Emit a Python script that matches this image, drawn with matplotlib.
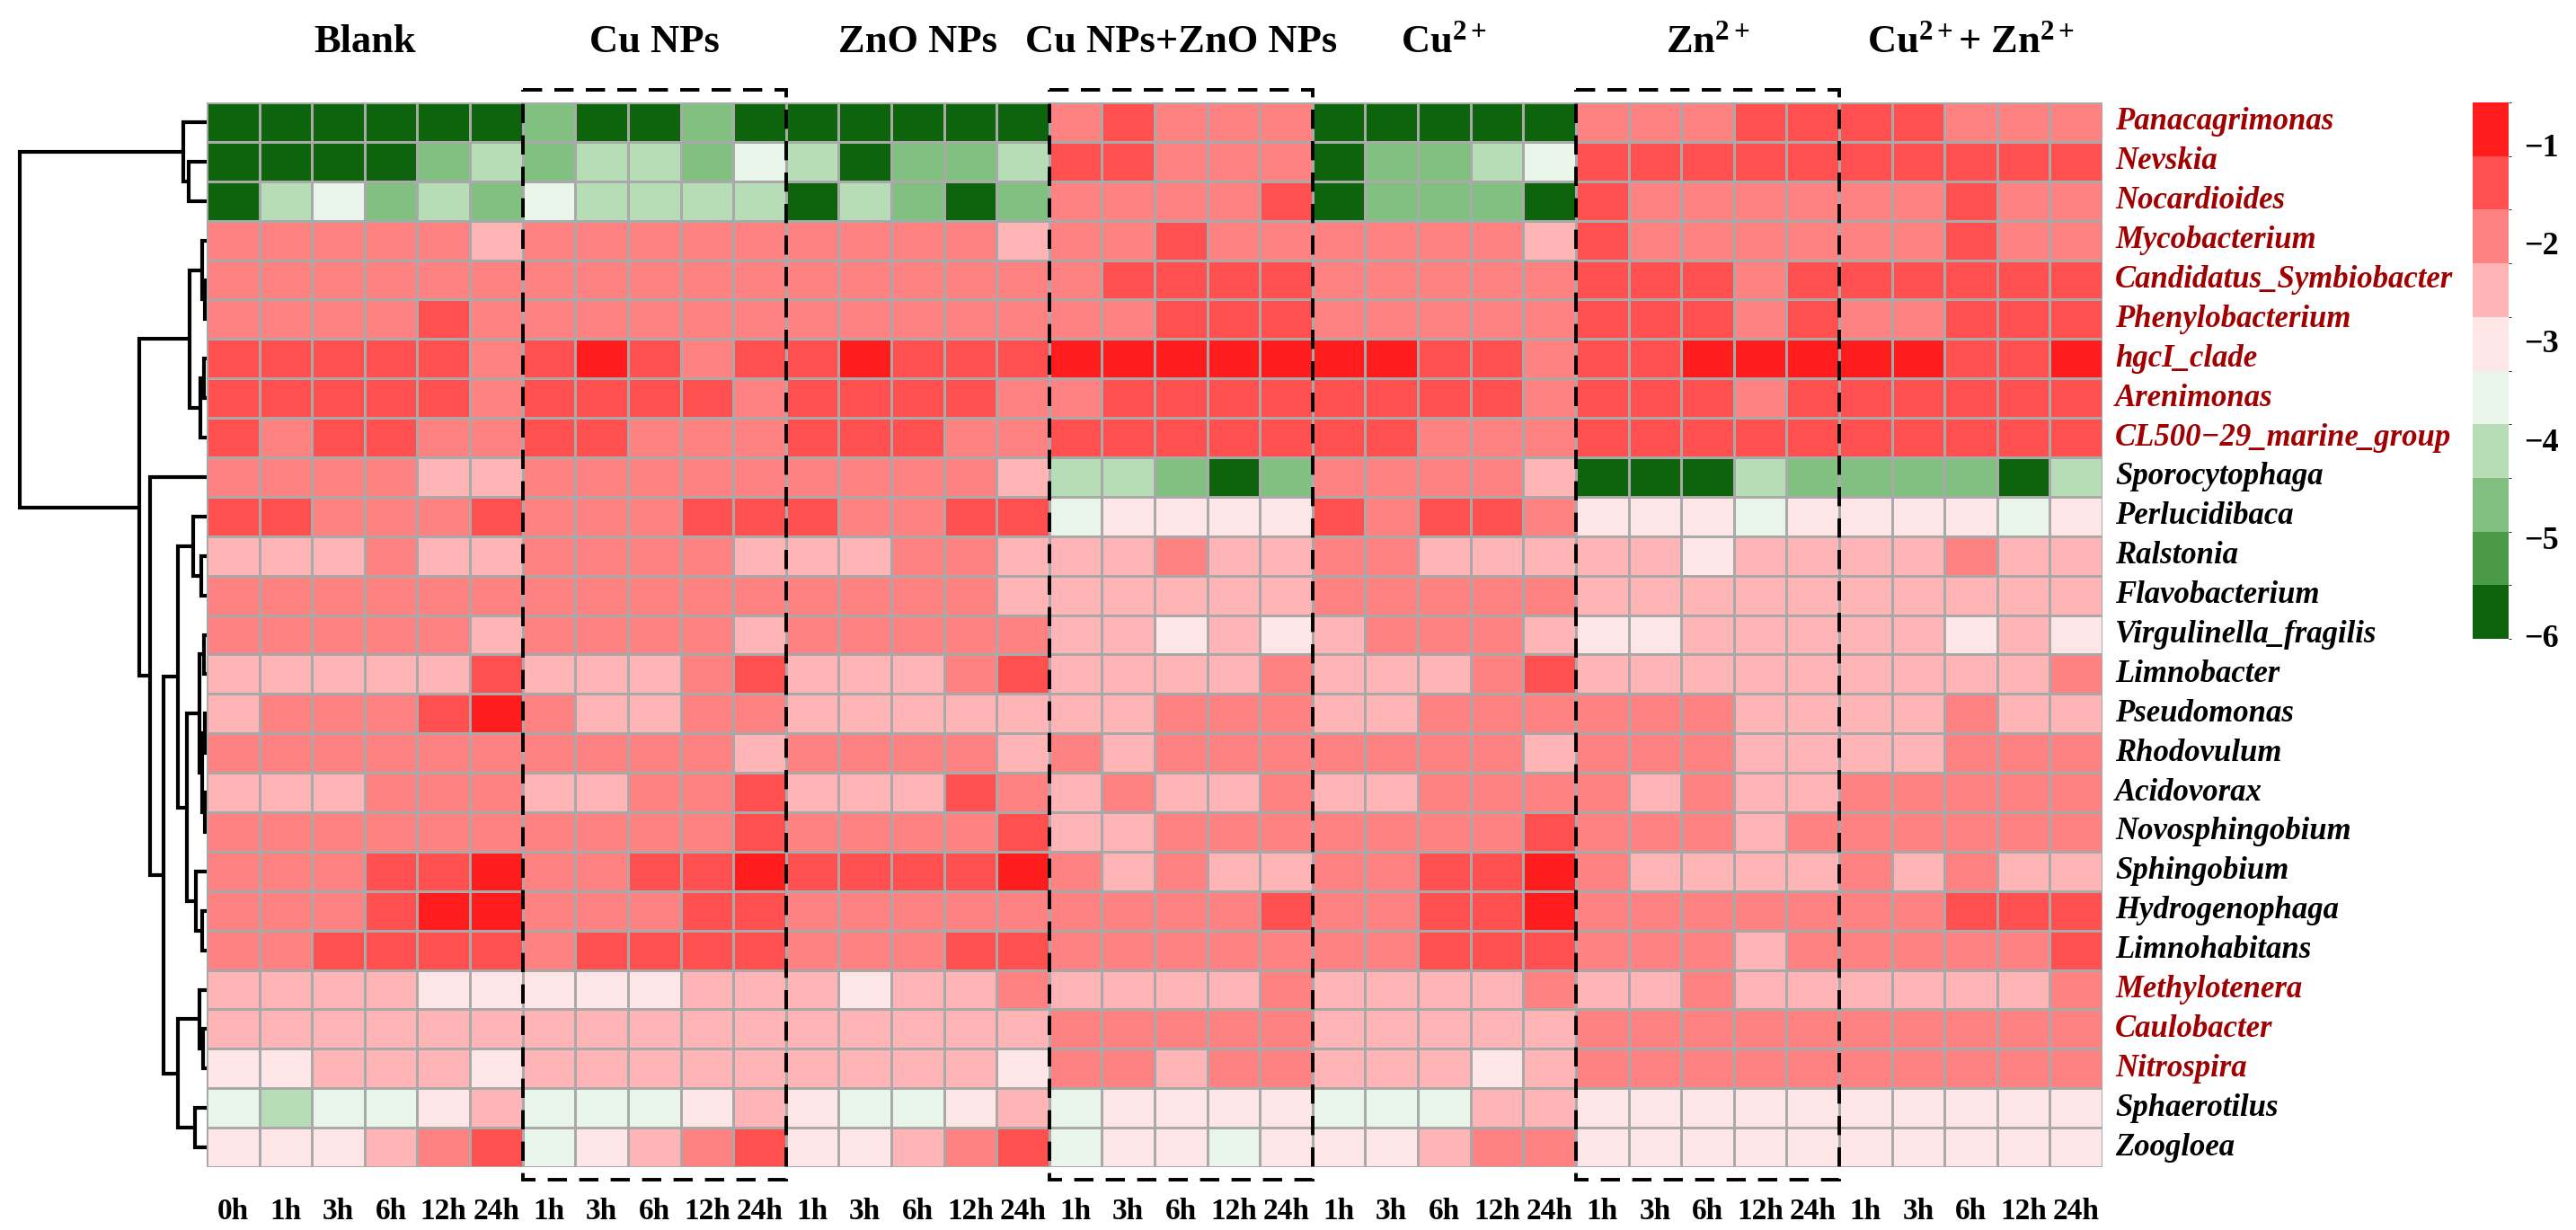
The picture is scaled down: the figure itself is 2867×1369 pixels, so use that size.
import numpy as np
import matplotlib
matplotlib.use("Agg")
import matplotlib.pyplot as plt
from matplotlib.colors import ListedColormap, BoundaryNorm
from matplotlib.cm import ScalarMappable
from matplotlib.patches import Rectangle

plt.rcParams.update({
    "font.family": ["Liberation Serif", "DejaVu Serif"],
    "font.weight": "bold",
    "mathtext.fontset": "custom",
    "mathtext.rm": "Liberation Serif:bold",
    "mathtext.it": "Liberation Serif:italic:bold",
    "mathtext.bf": "Liberation Serif:bold",
    "axes.unicode_minus": True,
})

# ---------------- data ----------------
genera = ["Panacagrimonas", "Nevskia", "Nocardioides", "Mycobacterium",
          "Candidatus_Symbiobacter", "Phenylobacterium", "hgcI_clade", "Arenimonas",
          "CL500\u221229_marine_group", "Sporocytophaga", "Perlucidibaca", "Ralstonia",
          "Flavobacterium", "Virgulinella_fragilis", "Limnobacter", "Pseudomonas",
          "Rhodovulum", "Acidovorax", "Novosphingobium", "Sphingobium",
          "Hydrogenophaga", "Limnohabitans", "Methylotenera", "Caulobacter",
          "Nitrospira", "Sphaerotilus", "Zoogloea"]
highlighted = [0, 1, 2, 3, 4, 5, 6, 7, 8, 22, 23, 24]

groups = ["Blank", "Cu NPs", "ZnO NPs", "Cu NPs+ZnO NPs",
          r"Cu$^{2+}$", r"Zn$^{2+}$", r"Cu$^{2+}$+ Zn$^{2+}$"]
times_blank = ["0h", "1h", "3h", "6h", "12h", "24h"]
times = ["1h", "3h", "6h", "12h", "24h"]
boxed = [1, 3, 5]

blank = [
    [-5.8, -5.8, -5.8, -5.8, -5.8, -5.8],
    [-5.8, -5.8, -5.8, -5.8, -4.7, -4.1],
    [-5.8, -4.1, -3.6, -4.7, -4.1, -4.7],
    [-1.9, -1.9, -1.9, -1.9, -1.9, -2.5],
    [-1.9, -1.9, -1.9, -1.9, -1.9, -1.9],
    [-1.9, -1.9, -1.9, -1.9, -1.4, -1.9],
    [-1.4, -1.4, -1.4, -1.4, -1.4, -1.9],
    [-1.4, -1.4, -1.4, -1.4, -1.4, -1.9],
    [-1.4, -1.9, -1.4, -1.4, -1.9, -1.9],
    [-1.9, -1.9, -1.9, -1.9, -2.5, -2.5],
    [-1.4, -1.4, -1.9, -1.9, -1.9, -1.4],
    [-2.5, -2.5, -2.5, -1.9, -2.5, -2.5],
    [-1.9, -1.9, -1.9, -1.9, -1.9, -1.9],
    [-1.9, -1.9, -1.9, -1.9, -1.9, -2.5],
    [-2.5, -2.5, -2.5, -2.5, -2.5, -1.4],
    [-2.5, -1.9, -1.9, -1.9, -1.4, -0.9],
    [-1.9, -1.9, -1.9, -1.9, -1.9, -1.9],
    [-2.5, -2.5, -2.5, -1.9, -1.9, -1.9],
    [-1.9, -1.9, -1.9, -1.9, -1.9, -1.9],
    [-1.9, -1.9, -1.9, -1.4, -1.4, -0.9],
    [-1.9, -1.9, -1.9, -1.4, -0.9, -0.9],
    [-1.9, -1.9, -1.4, -1.4, -1.4, -1.4],
    [-2.5, -2.5, -2.5, -2.5, -3.0, -3.0],
    [-2.5, -2.5, -2.5, -2.5, -2.5, -2.5],
    [-3.0, -3.0, -2.5, -2.5, -2.5, -3.0],
    [-3.6, -4.1, -3.6, -3.6, -3.0, -2.5],
    [-3.0, -3.0, -3.0, -2.5, -1.9, -1.4],
]
cu_nps = [
    [-4.7, -5.8, -5.8, -4.7, -5.8],
    [-4.7, -4.1, -4.1, -4.7, -3.6],
    [-3.6, -4.1, -4.1, -4.1, -4.1],
    [-1.9, -1.9, -1.9, -1.9, -1.9],
    [-1.9, -1.9, -1.9, -1.9, -1.9],
    [-1.9, -1.9, -1.9, -1.9, -1.9],
    [-1.4, -0.9, -1.4, -1.9, -1.4],
    [-1.4, -1.4, -1.4, -1.4, -1.9],
    [-1.4, -1.4, -1.9, -1.9, -1.9],
    [-1.9, -1.9, -1.9, -1.9, -1.9],
    [-1.9, -1.9, -1.9, -1.4, -1.4],
    [-1.9, -1.9, -1.9, -1.9, -2.5],
    [-1.9, -1.9, -1.9, -1.9, -1.9],
    [-1.9, -1.9, -1.9, -1.9, -2.5],
    [-2.5, -2.5, -2.5, -1.9, -1.4],
    [-1.9, -2.5, -2.5, -1.9, -1.9],
    [-1.9, -1.9, -1.9, -1.9, -2.5],
    [-2.5, -2.5, -1.9, -1.9, -1.4],
    [-1.9, -1.9, -1.9, -1.9, -1.4],
    [-1.9, -1.9, -1.4, -1.4, -0.9],
    [-1.9, -1.9, -1.9, -1.4, -1.4],
    [-1.9, -1.4, -1.4, -1.4, -1.4],
    [-3.0, -3.0, -3.0, -2.5, -2.5],
    [-2.5, -2.5, -2.5, -2.5, -2.5],
    [-2.5, -2.5, -2.5, -2.5, -2.5],
    [-3.6, -3.6, -3.6, -3.0, -2.5],
    [-3.6, -3.0, -2.5, -1.9, -1.4],
]
zno_nps = [
    [-5.8, -5.8, -5.8, -5.8, -5.8],
    [-4.1, -5.8, -4.7, -4.7, -4.1],
    [-5.8, -4.1, -4.7, -5.8, -4.7],
    [-1.9, -1.9, -1.9, -1.9, -2.5],
    [-1.9, -1.9, -1.9, -1.9, -1.9],
    [-1.9, -1.9, -1.9, -1.9, -1.9],
    [-1.4, -0.9, -1.4, -1.4, -1.4],
    [-1.4, -1.4, -1.4, -1.4, -1.9],
    [-1.4, -1.4, -1.4, -1.9, -1.9],
    [-1.9, -1.9, -1.9, -1.9, -2.5],
    [-1.4, -1.9, -1.9, -1.4, -1.4],
    [-2.5, -2.5, -1.9, -1.9, -2.5],
    [-1.9, -1.9, -1.9, -1.9, -2.5],
    [-1.9, -1.9, -1.9, -1.9, -1.9],
    [-2.5, -2.5, -2.5, -1.9, -1.4],
    [-2.5, -2.5, -2.5, -2.5, -2.5],
    [-1.9, -1.9, -1.9, -1.9, -2.5],
    [-2.5, -2.5, -2.5, -1.4, -1.9],
    [-1.9, -1.9, -1.9, -1.9, -1.4],
    [-1.4, -1.4, -1.4, -1.4, -0.9],
    [-1.9, -1.9, -1.9, -1.9, -1.9],
    [-1.9, -1.9, -1.9, -1.4, -1.4],
    [-2.5, -3.0, -2.5, -2.5, -1.9],
    [-2.5, -2.5, -2.5, -2.5, -2.5],
    [-2.5, -2.5, -2.5, -2.5, -3.0],
    [-3.0, -3.6, -3.6, -3.0, -2.5],
    [-3.0, -3.0, -2.5, -1.9, -1.4],
]
cu_zno_nps = [
    [-1.9, -1.4, -1.9, -1.9, -1.9],
    [-1.4, -1.4, -1.9, -1.9, -1.9],
    [-1.9, -1.9, -1.9, -1.9, -1.4],
    [-1.9, -1.9, -1.4, -1.9, -1.9],
    [-1.9, -1.4, -1.4, -1.4, -1.4],
    [-1.9, -1.9, -1.4, -1.4, -1.4],
    [-0.9, -0.9, -0.9, -0.9, -0.9],
    [-1.9, -1.4, -1.4, -1.4, -1.4],
    [-1.4, -1.4, -1.4, -1.4, -1.4],
    [-4.1, -4.1, -4.7, -5.8, -4.7],
    [-3.6, -3.0, -3.0, -3.0, -3.0],
    [-2.5, -2.5, -1.9, -2.5, -2.5],
    [-2.5, -2.5, -2.5, -2.5, -2.5],
    [-2.5, -2.5, -3.0, -2.5, -3.0],
    [-2.5, -2.5, -2.5, -2.5, -1.9],
    [-2.5, -2.5, -1.9, -1.9, -1.9],
    [-1.9, -2.5, -1.9, -1.9, -1.9],
    [-2.5, -1.9, -2.5, -2.5, -1.9],
    [-2.5, -2.5, -1.9, -1.9, -1.9],
    [-1.9, -2.5, -1.9, -2.5, -2.5],
    [-1.9, -1.9, -1.9, -1.9, -1.4],
    [-1.9, -1.9, -1.9, -1.9, -1.9],
    [-2.5, -2.5, -2.5, -2.5, -1.9],
    [-1.9, -1.9, -1.9, -1.9, -1.9],
    [-1.9, -1.9, -2.5, -1.9, -1.9],
    [-3.6, -3.0, -3.0, -3.0, -3.0],
    [-3.6, -3.0, -3.0, -3.6, -3.0],
]
cu_ion = [
    [-5.8, -5.8, -5.8, -5.8, -5.8],
    [-5.8, -4.7, -4.7, -4.1, -3.6],
    [-5.8, -4.7, -4.7, -4.7, -5.8],
    [-1.9, -1.9, -1.9, -1.9, -2.5],
    [-1.9, -1.9, -1.9, -1.9, -1.9],
    [-1.9, -1.9, -1.9, -1.9, -1.9],
    [-0.9, -0.9, -1.4, -1.4, -1.9],
    [-1.4, -1.4, -1.4, -1.4, -1.9],
    [-1.4, -1.4, -1.9, -1.9, -1.9],
    [-1.9, -1.9, -1.9, -1.9, -2.5],
    [-1.4, -1.9, -1.4, -1.4, -1.9],
    [-1.9, -1.9, -2.5, -2.5, -2.5],
    [-1.9, -1.9, -1.9, -1.9, -1.9],
    [-2.5, -1.9, -1.9, -1.9, -2.5],
    [-2.5, -2.5, -2.5, -1.9, -1.4],
    [-2.5, -2.5, -1.9, -1.9, -1.9],
    [-1.9, -1.9, -1.9, -1.9, -2.5],
    [-2.5, -2.5, -1.9, -1.9, -1.9],
    [-1.9, -1.9, -1.9, -1.9, -1.4],
    [-1.9, -1.9, -1.4, -1.4, -0.9],
    [-1.9, -1.9, -1.4, -1.4, -0.9],
    [-1.9, -1.9, -1.4, -1.4, -1.4],
    [-2.5, -2.5, -2.5, -2.5, -1.9],
    [-2.5, -2.5, -2.5, -2.5, -2.5],
    [-2.5, -2.5, -2.5, -3.0, -2.5],
    [-3.6, -3.6, -3.6, -2.5, -2.5],
    [-3.0, -3.0, -2.5, -1.9, -1.9],
]
zn_ion = [
    [-1.9, -1.9, -1.9, -1.4, -1.4],
    [-1.4, -1.4, -1.4, -1.4, -1.4],
    [-1.4, -1.9, -1.9, -1.9, -1.9],
    [-1.4, -1.9, -1.9, -1.9, -1.9],
    [-1.4, -1.4, -1.4, -1.9, -1.4],
    [-1.4, -1.4, -1.4, -1.9, -1.4],
    [-1.4, -1.4, -0.9, -0.9, -0.9],
    [-1.4, -1.4, -1.4, -1.9, -1.4],
    [-1.4, -1.4, -1.4, -1.4, -1.4],
    [-5.8, -5.8, -5.8, -4.1, -4.7],
    [-3.0, -3.0, -3.0, -3.6, -3.0],
    [-2.5, -2.5, -3.0, -2.5, -2.5],
    [-2.5, -2.5, -2.5, -2.5, -2.5],
    [-3.0, -3.0, -2.5, -2.5, -2.5],
    [-2.5, -2.5, -2.5, -2.5, -2.5],
    [-1.9, -1.9, -1.9, -2.5, -2.5],
    [-1.9, -1.9, -1.9, -2.5, -2.5],
    [-1.9, -2.5, -1.9, -2.5, -2.5],
    [-1.9, -1.9, -1.9, -2.5, -1.9],
    [-1.9, -2.5, -2.5, -2.5, -2.5],
    [-1.9, -1.9, -1.9, -1.9, -1.9],
    [-1.9, -1.9, -1.9, -2.5, -1.9],
    [-2.5, -2.5, -1.9, -2.5, -2.5],
    [-1.9, -1.9, -1.9, -1.9, -1.9],
    [-1.9, -1.9, -1.9, -1.9, -1.9],
    [-3.0, -3.0, -3.0, -3.0, -3.0],
    [-3.0, -3.0, -3.0, -3.0, -3.0],
]
cu_zn_ion = [
    [-1.4, -1.4, -1.9, -1.9, -1.9],
    [-1.4, -1.4, -1.4, -1.4, -1.4],
    [-1.9, -1.9, -1.4, -1.9, -1.9],
    [-1.9, -1.9, -1.4, -1.9, -1.9],
    [-1.4, -1.4, -1.4, -1.4, -1.4],
    [-1.9, -1.9, -1.4, -1.4, -1.4],
    [-0.9, -0.9, -1.4, -1.4, -0.9],
    [-1.4, -1.4, -1.4, -1.4, -1.4],
    [-1.4, -1.4, -1.4, -1.4, -1.4],
    [-4.7, -4.7, -4.7, -5.8, -4.1],
    [-3.0, -3.0, -3.0, -3.6, -3.0],
    [-2.5, -2.5, -1.9, -2.5, -2.5],
    [-2.5, -2.5, -2.5, -2.5, -2.5],
    [-2.5, -2.5, -3.0, -2.5, -3.0],
    [-2.5, -2.5, -2.5, -2.5, -1.9],
    [-2.5, -2.5, -1.9, -2.5, -2.5],
    [-2.5, -2.5, -1.9, -1.9, -1.9],
    [-1.9, -1.9, -1.9, -1.9, -1.9],
    [-1.9, -1.9, -1.9, -1.9, -1.9],
    [-1.9, -2.5, -1.9, -2.5, -2.5],
    [-1.9, -1.9, -1.4, -1.4, -1.4],
    [-1.9, -1.9, -1.9, -1.9, -1.4],
    [-2.5, -2.5, -2.5, -2.5, -1.9],
    [-1.9, -1.9, -1.9, -1.9, -1.9],
    [-1.9, -1.9, -1.9, -1.9, -1.9],
    [-3.0, -3.0, -3.0, -3.0, -3.0],
    [-3.0, -3.0, -3.0, -3.0, -3.0],
]

# row dendrogram: (child a, child b, merge height); leaves 0..26, new nodes 27..
row_merges = [
    (1, 2, 20), (0, 27, 26),
    (4, 5, 2), (3, 29, 5), (6, 7, 3), (31, 8, 7), (30, 32, 19),
    (11, 12, 6), (10, 34, 15),
    (13, 14, 3), (15, 16, 2), (17, 18, 2), (37, 38, 5), (36, 39, 8),
    (20, 21, 5), (19, 41, 12), (40, 42, 22), (35, 43, 32),
    (23, 24, 4), (22, 45, 8), (25, 26, 13), (46, 47, 32),
    (44, 48, 48), (9, 49, 63), (33, 50, 75), (28, 51, 208),
]

# colour scale
cbar_colors = ["#0d640d", "#4a9a4a", "#82c082", "#b6ddb6", "#e8f5e8",
               "#ffe6e6", "#ffb5b5", "#ff8282", "#ff4f4f", "#ff1c1c"]
vmin, vmax = -6.03, -0.57
cbar_ticks = [-1, -2, -3, -4, -5, -6]

# ---------------- figure ----------------
W, H = 2867, 1369
fig = plt.figure(figsize=(W / 100, H / 100), dpi=100)
fig.patch.set_facecolor("white")

HM_L, HM_R, HM_T, HM_B = 230, 2340, 114, 1299
blocks = [blank, cu_nps, zno_nps, cu_zno_nps, cu_ion, zn_ion, cu_zn_ion]
data = np.hstack([np.array(b) for b in blocks])
nrow, ncol = data.shape
cw = (HM_R - HM_L) / ncol
rh = (HM_B - HM_T) / nrow

cmap = ListedColormap(cbar_colors)
bounds = np.linspace(vmin, vmax, len(cbar_colors) + 1)
norm = BoundaryNorm(bounds, cmap.N)

ax = fig.add_axes([HM_L / W, 1 - HM_B / H, (HM_R - HM_L) / W, (HM_B - HM_T) / H])
ax.pcolormesh(np.arange(ncol + 1), np.arange(nrow + 1), data, cmap=cmap, norm=norm,
              edgecolors="#a9a9a9", linewidth=1.0)
ax.set_xlim(0, ncol)
ax.set_ylim(nrow, 0)
ax.axis("off")

# row labels
for i, g in enumerate(genera):
    ax.text(ncol + 14 / cw, i + 0.5, g, ha="left", va="center", fontsize=25,
            fontstyle="italic", fontweight="bold",
            color="#a00000" if i in highlighted else "black", clip_on=False)

# column labels, group titles, dashed boxes
start = 0
for gi, (gname, block) in enumerate(zip(groups, blocks)):
    n = len(block[0])
    labs = times_blank if n == 6 else times
    for j, t in enumerate(labs):
        ax.text(start + j + 0.5, nrow + 50 / rh, t, ha="center", va="center",
                fontsize=24, fontweight="bold", clip_on=False)
    ax.text(start + n / 2, -67 / rh, gname, ha="center", va="center",
            fontsize=32, fontweight="bold", clip_on=False)
    if gi in boxed:
        ax.add_patch(Rectangle((start, -14 / rh), n, nrow + 28 / rh, fill=False,
                               edgecolor="black", linewidth=2.8,
                               linestyle=(0, (5.5, 3.5)), clip_on=False, zorder=5))
    start += n

# dendrogram
dax = fig.add_axes([0, 1 - HM_B / H, HM_L / W, (HM_B - HM_T) / H])
dax.set_xlim(HM_L, 0)
dax.set_ylim(nrow, 0)
dax.axis("off")
pos = {i: i + 0.5 for i in range(nrow)}
hgt = {i: 0.0 for i in range(nrow)}
for k, (a, b, h) in enumerate(row_merges):
    node = nrow + k
    dax.plot([hgt[a], h, h, hgt[b]], [pos[a], pos[a], pos[b], pos[b]],
             color="black", linewidth=3, solid_capstyle="butt",
             solid_joinstyle="miter")
    pos[node] = (pos[a] + pos[b]) / 2
    hgt[node] = h

# colour bar
cb_top, cb_bot = 114, 711
cax = fig.add_axes([2752 / W, 1 - cb_bot / H, 40 / W, (cb_bot - cb_top) / H])
cb = fig.colorbar(ScalarMappable(norm=norm, cmap=cmap), cax=cax, ticks=cbar_ticks)
cb.outline.set_visible(False)
cb.ax.tick_params(length=0, pad=12, labelsize=26)
for t in cb.ax.get_yticklabels():
    t.set_fontweight("bold")

fig.savefig("out.png", dpi=100, facecolor="white")
